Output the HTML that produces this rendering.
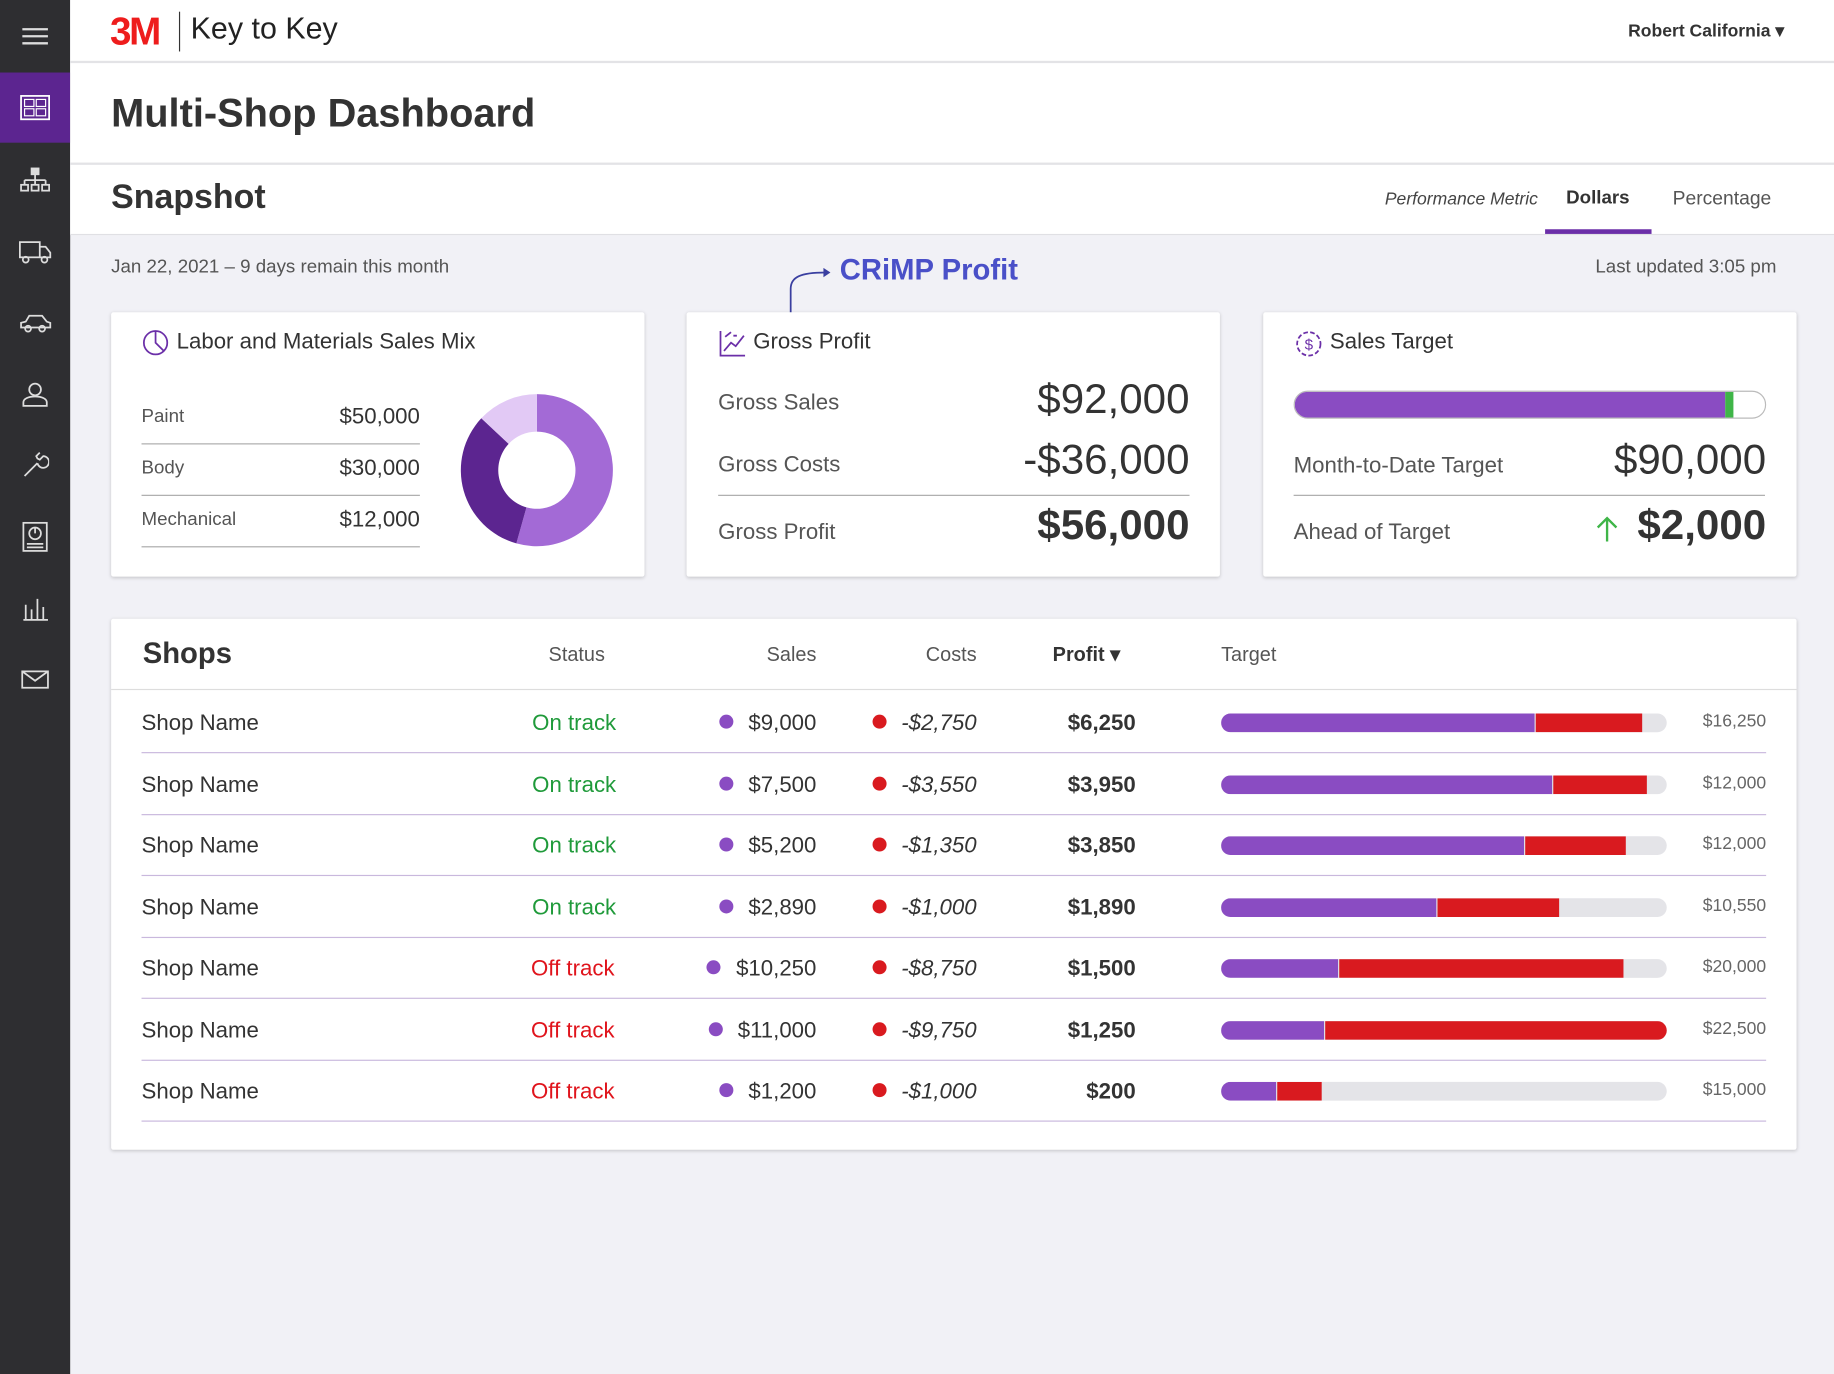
<!DOCTYPE html>
<html><head><meta charset="utf-8"><style>
html,body{margin:0;padding:0;width:1834px;height:1374px;overflow:hidden;background:#f1f1f6;font-family:"Liberation Sans",sans-serif;color:#2f2f33}
#wrap{position:absolute;left:0;top:0;width:1568px;height:1175px;transform:scale(1.16964);transform-origin:0 0;background:#f1f1f6}
.abs{position:absolute}
.side{left:0;top:0;width:60px;height:1175px;background:#2e2e31}
.ico{position:absolute;left:0;width:60px;height:61px;display:flex;align-items:center;justify-content:center}
.card{background:#fff;box-shadow:0 1px 3px rgba(0,0,0,.18);border-radius:2px}
.t{position:absolute;white-space:nowrap}
.row{position:absolute;left:121px;width:1389px;height:52px;border-bottom:1px solid #c9b8dd}
</style></head><body>
<div id="wrap">
<div class="abs side">
 <div class="ico" style="top:0"><svg width="22" height="16"><g stroke="#ddd" stroke-width="2"><line x1="0" y1="2" x2="22" y2="2"/><line x1="0" y1="8" x2="22" y2="8"/><line x1="0" y1="14" x2="22" y2="14"/></g></svg></div>
 <div class="ico" style="top:62px;height:60px;background:#5c2590"><svg width="26" height="22"><rect x="1" y="1" width="24" height="20" fill="none" stroke="#fff" stroke-width="1.5"/><rect x="4" y="4" width="8" height="6" fill="none" stroke="#fff"/><rect x="14" y="4" width="8" height="6" fill="none" stroke="#fff"/><rect x="4" y="12" width="8" height="6" fill="none" stroke="#fff"/><rect x="14" y="12" width="8" height="6" fill="none" stroke="#fff"/></svg></div>
 <div class="ico" style="top:123px"><svg width="26" height="22" fill="none" stroke="#ddd" stroke-width="1.5"><rect x="10" y="1" width="6" height="5" fill="#ddd"/><path d="M13 6v5M4 11h18M4 11v4M13 11v4M22 11v4"/><rect x="1" y="15" width="6" height="5"/><rect x="10" y="15" width="6" height="5"/><rect x="19" y="15" width="6" height="5"/></svg></div>
 <div class="ico" style="top:184px"><svg width="28" height="22" fill="none" stroke="#ddd" stroke-width="1.5"><rect x="1" y="3" width="17" height="13"/><path d="M18 7h5l4 5v4h-9"/><circle cx="6" cy="18" r="2.5"/><circle cx="22" cy="18" r="2.5"/></svg></div>
 <div class="ico" style="top:245px"><svg width="28" height="18" fill="none" stroke="#ddd" stroke-width="1.5"><path d="M2 13v-4l4-1 3-5h11l4 5 3 1v4z"/><circle cx="8" cy="14" r="2.5"/><circle cx="20" cy="14" r="2.5"/></svg></div>
 <div class="ico" style="top:306px"><svg width="24" height="22" fill="none" stroke="#ddd" stroke-width="1.5"><circle cx="12" cy="7" r="5"/><path d="M2 21v-3c0-3 4-5 10-5s10 2 10 5v3z"/></svg></div>
 <div class="ico" style="top:367px"><svg width="24" height="24" fill="none" stroke="#ddd" stroke-width="1.5"><path d="M3 21l11-11M14 10a5 5 0 1 0 5-6l-3 3-2-1-1-2 3-3"/></svg></div>
 <div class="ico" style="top:428px"><svg width="24" height="26" fill="none" stroke="#ddd" stroke-width="1.5"><rect x="2" y="1" width="20" height="24"/><circle cx="12" cy="10" r="5"/><path d="M12 10V5M5 19h14M5 22h14"/></svg></div>
 <div class="ico" style="top:489px"><svg width="24" height="22" fill="none" stroke="#ddd" stroke-width="1.5"><path d="M2 21h21M4 21V8M9 21V12M14 21V3M19 21V10"/></svg></div>
 <div class="ico" style="top:550px"><svg width="24" height="18" fill="none" stroke="#ddd" stroke-width="1.5"><rect x="1" y="2" width="22" height="14"/><path d="M1 2l11 8 11-8"/></svg></div>
</div>
<div class="abs" style="left:60px;top:0;width:1508px;height:52px;background:#fff;border-bottom:2px solid #e3e3e6"></div>
<div class="t" style="left:94px;top:8px;font-size:33px;font-weight:bold;color:#ee1c1c;letter-spacing:-2px">3M</div>
<div class="abs" style="left:153px;top:10px;width:1px;height:34px;background:#333"></div>
<div class="t" style="left:163px;top:9px;font-size:26px;color:#222">Key to Key</div>
<div class="t" style="left:1392px;top:17px;font-size:15px;font-weight:bold;color:#333">Robert California ▾</div>
<div class="abs" style="left:60px;top:54px;width:1508px;height:85px;background:#fff;border-bottom:2px solid #e3e3e6"></div>
<div class="t" style="left:95px;top:78px;font-size:34px;font-weight:bold;color:#333">Multi-Shop Dashboard</div>
<div class="abs" style="left:60px;top:141px;width:1508px;height:59px;background:#fff;border-bottom:1px solid #e0e0e4"></div>
<div class="t" style="left:95px;top:153px;font-size:29px;font-weight:bold;color:#333">Snapshot</div>
<div class="t" style="left:1184px;top:162px;font-size:15px;font-style:italic;color:#444">Performance Metric</div>
<div class="t" style="left:1339px;top:161px;font-size:16px;font-weight:bold;color:#333">Dollars</div>
<div class="abs" style="left:1321px;top:196px;width:91px;height:4px;background:#6b2fa8"></div>
<div class="t" style="left:1430px;top:161px;font-size:16.5px;color:#555">Percentage</div>
<div class="t" style="left:95px;top:220px;font-size:16px;color:#555">Jan 22, 2021 – 9 days remain this month</div>
<div class="t" style="left:1364px;top:220px;font-size:16px;color:#555">Last updated 3:05 pm</div>
<svg class="abs" style="left:670px;top:225px" width="50" height="52"><path d="M6 50V22c0-10 8-14 30-14" fill="none" stroke="#3a3fa0" stroke-width="1.5"/><path d="M34 4l6 4-6 4z" fill="#3a3fa0"/></svg>
<div class="t" style="left:718px;top:217px;font-size:25px;font-weight:bold;color:#4a50c8">CRiMP Profit</div>

<div class="abs card" style="left:95px;top:267px;width:456px;height:226px"></div>
<svg class="abs" style="left:122px;top:282px" width="24" height="24"><circle cx="11" cy="11" r="10" fill="none" stroke="#6b2fa8" stroke-width="1.5"/><path d="M11 1v10l7 7" fill="none" stroke="#6b2fa8" stroke-width="1.5"/></svg>
<div class="t" style="left:151px;top:282px;font-size:19px;color:#333">Labor and Materials Sales Mix</div>
<div id="mixrows"></div>
<svg class="abs" style="left:389px;top:332px" width="140" height="140" id="donut"></svg>

<div class="abs card" style="left:587px;top:267px;width:456px;height:226px"></div>
<svg class="abs" style="left:614px;top:282px" width="24" height="24" fill="none" stroke="#6b2fa8" stroke-width="1.5"><path d="M2 1v21h21M5 18l6-7 4 3 7-9M6 6l5-4M13 5h3"/></svg>
<div class="t" style="left:644px;top:282px;font-size:19px;color:#333">Gross Profit</div>
<div class="t" style="left:614px;top:334px;font-size:19px;color:#555">Gross Sales</div>
<div class="t" style="right:551px;top:320px;font-size:36px;color:#333">$92,000</div>
<div class="t" style="left:614px;top:387px;font-size:19px;color:#555">Gross Costs</div>
<div class="t" style="right:551px;top:372px;font-size:36px;color:#333">-$36,000</div>
<div class="abs" style="left:614px;top:423px;width:403px;height:1px;background:#aaa"></div>
<div class="t" style="left:614px;top:445px;font-size:19px;color:#555">Gross Profit</div>
<div class="t" style="right:551px;top:428px;font-size:36px;font-weight:bold;color:#333">$56,000</div>

<div class="abs card" style="left:1080px;top:267px;width:456px;height:226px"></div>
<svg class="abs" style="left:1107px;top:282px" width="24" height="24" fill="none" stroke="#6b2fa8" stroke-width="1.5"><circle cx="12" cy="12" r="10" stroke-dasharray="4 2"/><text x="12" y="17" font-size="13" text-anchor="middle" fill="#6b2fa8" stroke="none" font-family="Liberation Sans">$</text></svg>
<div class="t" style="left:1137px;top:282px;font-size:19px;color:#333">Sales Target</div>
<div class="abs" style="left:1106px;top:334px;width:402px;height:22px;border:1px solid #bbb;border-radius:12px;overflow:hidden;background:#fff">
 <div class="abs" style="left:0;top:0;width:368px;height:22px;background:#8a4cc2"></div>
 <div class="abs" style="left:368px;top:0;width:7px;height:22px;background:#3fb548"></div>
</div>
<div class="t" style="left:1106px;top:388px;font-size:19px;color:#555">Month-to-Date Target</div>
<div class="t" style="right:58px;top:372px;font-size:36px;color:#333">$90,000</div>
<div class="abs" style="left:1106px;top:423px;width:403px;height:1px;background:#aaa"></div>
<div class="t" style="left:1106px;top:445px;font-size:19px;color:#555">Ahead of Target</div>
<svg class="abs" style="left:1364px;top:440px" width="20" height="24"><path d="M10 23V3M2 11l8-8 8 8" fill="none" stroke="#3fb548" stroke-width="2"/></svg>
<div class="t" style="right:58px;top:428px;font-size:36px;font-weight:bold;color:#333">$2,000</div>

<div class="abs card" style="left:95px;top:529px;width:1441px;height:454px"></div>
<div class="abs" style="left:95px;top:589px;width:1441px;height:1px;background:#ddd"></div>
<div class="t" style="left:122px;top:545px;font-size:25px;font-weight:bold;color:#333">Shops</div>
<div class="t" style="left:469px;top:550px;font-size:17px;color:#555">Status</div>
<div class="t" style="right:870px;top:550px;font-size:17px;color:#555">Sales</div>
<div class="t" style="right:733px;top:550px;font-size:17px;color:#555">Costs</div>
<div class="t" style="left:900px;top:550px;font-size:17px;font-weight:bold;color:#333">Profit ▾</div>
<div class="t" style="left:1044px;top:550px;font-size:17px;color:#555">Target</div>
<div id="rows"></div>
</div>
<script>
const mixLabels=["Paint","Body","Mechanical"];
const mixValues=[50000,30000,12000];
const mixColors=["#a36ad6","#5c2590","#e2c9f5"];
const shopStatus=["On track","On track","On track","On track","Off track","Off track","Off track"];
const shopSales=[9000,7500,5200,2890,10250,11000,1200];
const shopCosts=[-2750,-3550,-1350,-1000,-8750,-9750,-1000];
const shopProfit=[6250,3950,3850,1890,1500,1250,200];
const shopTarget=[16250,12000,12000,10550,20000,22500,15000];
const barSalesPct=[70.3,74.3,68,48.3,26.2,23.1,12.3];
const barCostsPct=[23.9,21,22.6,27.3,63.8,76.9,10];
const fmt=v=>(v<0?"-":"")+"$"+Math.abs(v).toLocaleString("en-US");
const mr=document.getElementById('mixrows');
mixLabels.forEach((l,i)=>{
 const d=document.createElement('div');d.className='abs';
 d.style.cssText=`left:121px;top:${336+i*44}px;width:238px;height:43px;border-bottom:1px solid #aaa`;
 
 
 d.innerHTML=`<span class="t" style="left:0;top:12px;font-size:16px;color:#555">${l}</span><span class="t" style="right:0;top:10px;font-size:19px;color:#333">${fmt(mixValues[i])}</span>`;
 mr.appendChild(d);
});
const svg=document.getElementById('donut');const NS="http://www.w3.org/2000/svg";
const tot=mixValues.reduce((a,b)=>a+b,0);let a0=0;const cx=70,cy=70,R=65,r=33;
mixValues.forEach((v,i)=>{
 const a1=a0+v/tot*2*Math.PI;
 const p=(ang,rad)=>[cx+rad*Math.sin(ang),cy-rad*Math.cos(ang)];
 const [x0,y0]=p(a0,R),[x1,y1]=p(a1,R),[x2,y2]=p(a1,r),[x3,y3]=p(a0,r);
 const lg=(a1-a0)>Math.PI?1:0;
 const el=document.createElementNS(NS,'path');
 el.setAttribute('d',`M${x0} ${y0}A${R} ${R} 0 ${lg} 1 ${x1} ${y1}L${x2} ${y2}A${r} ${r} 0 ${lg} 0 ${x3} ${y3}Z`);
 el.setAttribute('fill',mixColors[i]);
 
 
 svg.appendChild(el);a0=a1;
});
const rows=document.getElementById('rows');
shopSales.forEach((s,i)=>{
 const d=document.createElement('div');d.className='row';
 d.style.top=(591+i*52.5)+'px';
 
 
 const on=shopStatus[i]==="On track";
 d.innerHTML=`<span class="t" style="left:0;top:17px;font-size:19px;color:#333">Shop Name</span>
 <span class="t" style="left:${on?334:333}px;top:17px;font-size:19px;color:${on?'#1f9a3a':'#e0141c'}">${shopStatus[i]}</span>
 <span class="t" style="right:812px;top:17px;font-size:19px;color:#333"><span style="display:inline-block;width:12px;height:12px;border-radius:6px;background:#8a4cc2;margin-right:13px;vertical-align:1px"></span>${fmt(s)}</span>
 <span class="t" style="right:675px;top:17px;font-size:19px;color:#333;font-style:italic"><span style="display:inline-block;width:12px;height:12px;border-radius:6px;background:#d91a1f;margin-right:13px;vertical-align:1px"></span>${fmt(shopCosts[i])}</span>
 <span class="t" style="right:539px;top:17px;font-size:19px;font-weight:bold;color:#333">${fmt(shopProfit[i])}</span>
 <span class="t" style="right:0;top:17px;font-size:15px;color:#666">${fmt(shopTarget[i])}</span>`;
 const track=document.createElement('div');track.className='abs';
 track.style.cssText='left:923px;top:19px;width:381px;height:16px;border-radius:8px;background:#e4e4e8;overflow:hidden';
 
 
 const sw=barSalesPct[i]/100*381,cw=barCostsPct[i]/100*381;
 const b1=document.createElement('div');b1.className='abs';b1.style.cssText=`left:0;top:0;height:16px;width:${sw}px;background:#8a4cc2`;
 
 
 const b2=document.createElement('div');b2.className='abs';b2.style.cssText=`left:${sw+1}px;top:0;height:16px;width:${cw}px;background:#d91a1f`;
 
 
 track.appendChild(b1);track.appendChild(b2);d.appendChild(track);
 rows.appendChild(d);
});
</script>
</body></html>
